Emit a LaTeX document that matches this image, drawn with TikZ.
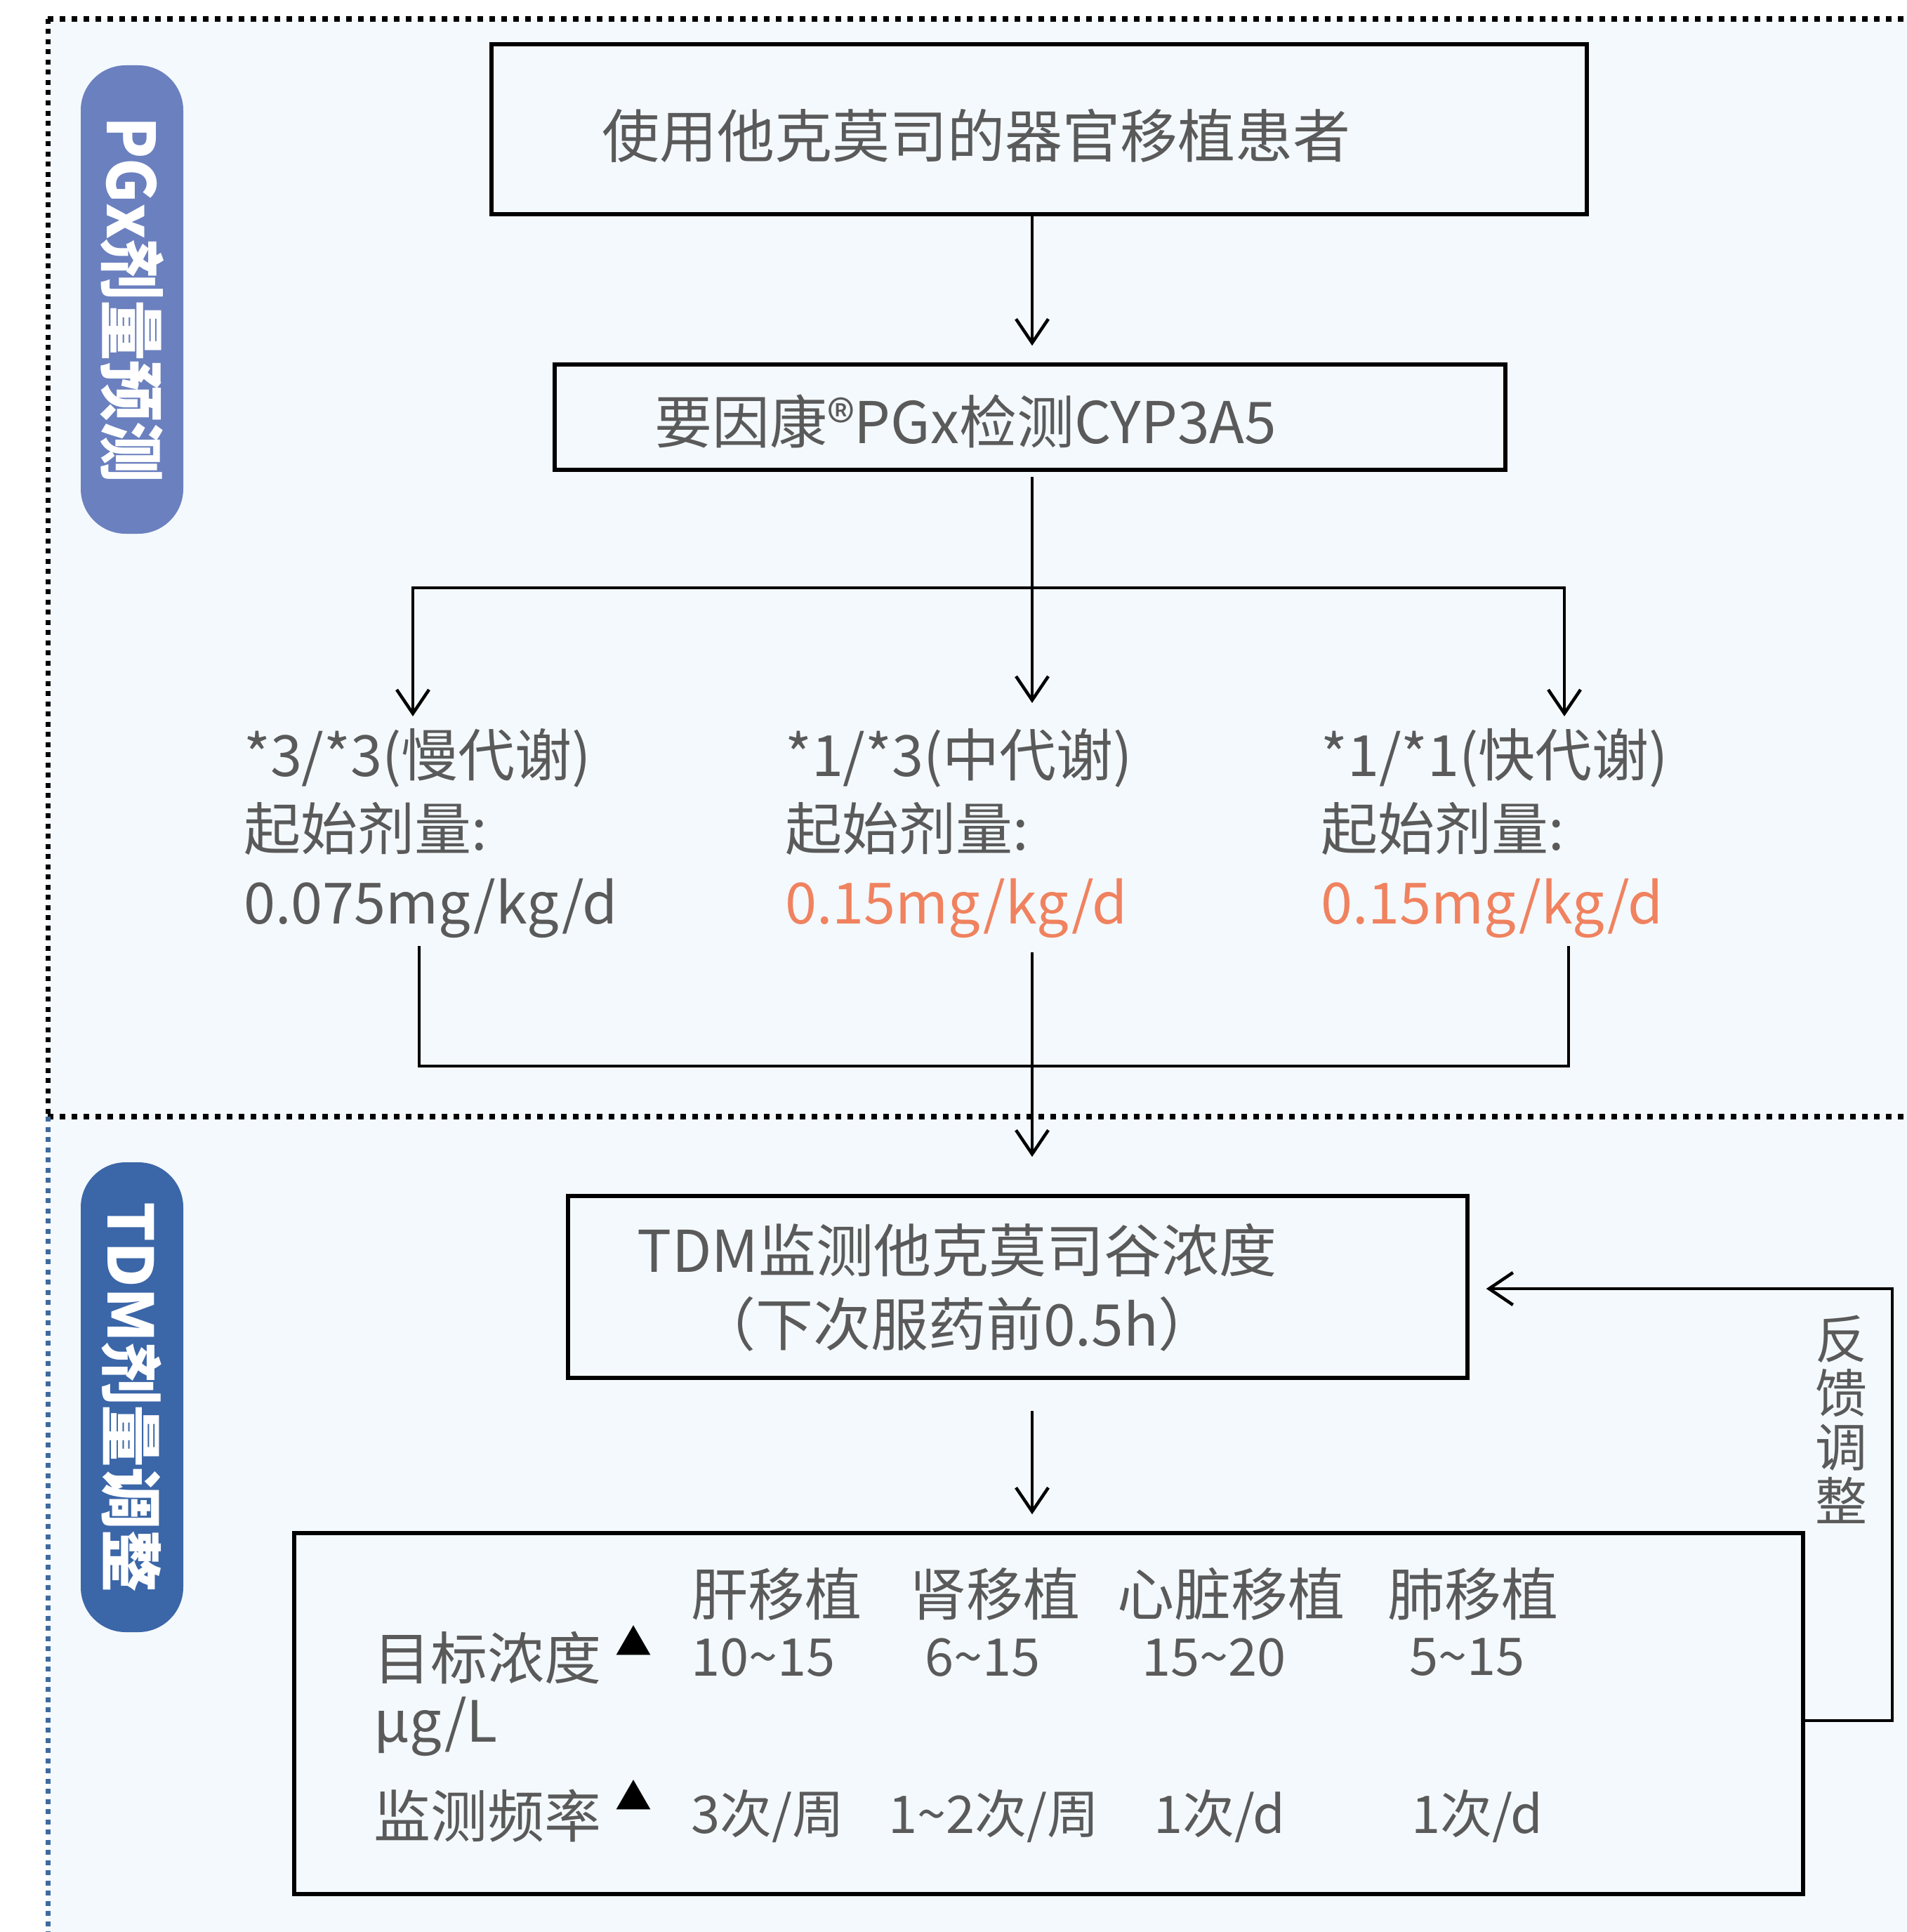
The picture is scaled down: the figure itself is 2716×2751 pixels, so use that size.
\documentclass[tikz,border=0pt]{standalone}
\usepackage{fontspec}
\setmainfont{Noto Sans CJK SC}
\usepackage{graphicx}
\usetikzlibrary{arrows.meta}
\definecolor{txt}{HTML}{5A5A5A}
\definecolor{bgc}{HTML}{F4F9FD}
\definecolor{org}{HTML}{F0825F}
\definecolor{pillA}{HTML}{6B80BF}
\definecolor{pillB}{HTML}{3B66A8}
\definecolor{dotB}{HTML}{3E6A9E}
\newcommand{\tld}{\textasciitilde}
\begin{document}
\begin{tikzpicture}[x=1pt,y=-1pt,
  box/.style={draw=black, line width=5.5pt, fill=bgc, inner sep=0pt},
  tx/.style={text=txt, inner sep=0pt},
  tw/.style={tx, anchor=west},
  con/.style={draw=black, line width=4.5pt},
  arr/.style={con, -{Straight Barb[length=34pt,width=46pt]}},
  pill/.style={rounded corners=64pt, inner sep=0pt, rotate=-90, text=white},
  dotH/.style={line width=8pt, dash pattern=on 8pt off 9pt},
  dotV/.style={line width=7pt, dash pattern=on 7pt off 7.5pt},
  big/.style={font=\fontsize{82}{98}\selectfont},
  mid/.style={font=\fontsize{81}{105}\selectfont},
  val/.style={font=\fontsize{74}{90}\selectfont},
  tri/.style={text=black, inner sep=0pt, font=\fontsize{52}{52}\selectfont}]
\useasboundingbox (0,0) rectangle (2716,2751);
% background and dotted frame
\fill[bgc] (68,27) rectangle (2716,2751);
\draw[dotH] (68,27) -- (2716,27);
\draw[dotH] (68,1590) -- (2716,1590);
\draw[dotV] (68,27) -- (68,1590);
\draw[dotV, dotB] (68,1590) -- (68,2751);
% side pills
\node[pill, fill=pillA, minimum width=667pt, minimum height=146pt,
      font=\fontsize{94}{100}\selectfont\bfseries] (p1) at (188,426.5) {\scalebox{0.92}[1]{PGx剂量预测}};
\node[pill, fill=pillB, minimum width=669pt, minimum height=146pt,
      font=\fontsize{89}{100}\selectfont\bfseries] (p2) at (188,1989.5) {TDM剂量调整};
% boxes
\node[box, minimum width=1560pt, minimum height=242pt] (b1) at (1480,184) {};
\node[tx, big] (t1) at (1390,193) {使用他克莫司的器官移植患者};
\node[box, minimum width=1354pt, minimum height=150pt] (b2) at (1467,594) {};
\node[tx, big] (t2) at (1375,600) {要因康®PGx检测CYP3A5};
\node[box, minimum width=1281pt, minimum height=259pt] (b3) at (1449.5,1832.5) {};
\node[tx, align=center, font=\fontsize{82}{105}\selectfont] (t3) at (1363,1833) {TDM监测他克莫司谷浓度\\（下次服药前0.5h）};
\node[box, minimum width=2149pt, minimum height=514pt] (b4) at (1493.5,2440) {};
% genotype blocks
\node[tw, mid, align=left] (gL) at (347,1187) {*3/*3(慢代谢)\\起始剂量:\\0.075mg/kg/d};
\node[tw, mid, align=left] (gM) at (1118,1187) {*1/*3(中代谢)\\起始剂量:\\\textcolor{org}{0.15mg/kg/d}};
\node[tw, mid, align=left] (gR) at (1881,1187) {*1/*1(快代谢)\\起始剂量:\\\textcolor{org}{0.15mg/kg/d}};
% table inside box 4
\begin{scope}[every node/.append style={tw, mid}]
\node (h1) at (984,2270) {肝移植};
\node (h2) at (1295,2270) {肾移植};
\node (h3) at (1591,2270) {心脏移植};
\node (h4) at (1976,2270) {肺移植};
\node (r1) at (532,2360) {目标浓度};
\node (u1) at (532,2458) {μg/L};
\node (r2) at (532,2586) {监测频率};
\end{scope}
\begin{scope}[every node/.append style={tw, val}]
\node (v11) at (984,2360) {10\tld15};
\node (v12) at (1317,2360) {6\tld15};
\node (v13) at (1626,2360) {15\tld20};
\node (v14) at (2007,2360) {5\tld15};
\node (v21) at (984,2586) {3次/周};
\node (v22) at (1265,2586) {1\tld2次/周};
\node (v23) at (1643,2586) {1次/d};
\node (v24) at (2010,2586) {1次/d};
\end{scope}
\node[tri] (k1) at (902,2336) {▲};
\node[tri] (k2) at (902,2556) {▲};
% feedback label
\node[tx, align=center, font=\fontsize{74}{77}\selectfont] (fbl) at (2622,2021) {反\\馈\\调\\整};
% connectors
\coordinate (colx) at (1470,0);
\coordinate (split) at (1470,837);
\coordinate (tipL) at (588,1020);
\coordinate (tipM) at (1470,1001);
\coordinate (tipR) at (2228,1020);
\coordinate (jL) at (597,1347);
\coordinate (jM) at (1470,1356);
\coordinate (jR) at (2234,1347);
\coordinate (merge) at (1470,1518);
\coordinate (fbR) at (2695,2450);
\coordinate (fbT) at (2695,1835);
\draw[arr, shorten >=24pt] (b1.south -| colx) -- (b2.north -| colx);
\draw[con, shorten <=7pt] (b2.south -| colx) -- (split);
\draw[arr] (split) -- (tipM);
\draw[arr] (split) -| (tipL);
\draw[arr] (split) -| (tipR);
\draw[con] (jL) |- (merge) -| (jR);
\draw[arr, shorten >=53pt] (jM) -- (b3.north -| colx);
\draw[arr, shorten <=44pt, shorten >=24pt] (b3.south -| colx) -- (b4.north -| colx);
\draw[arr, shorten >=24pt] (b4.east |- fbR) -- (fbR) -- (fbT) -- (b3.east |- fbT);
\end{tikzpicture}
\end{document}
